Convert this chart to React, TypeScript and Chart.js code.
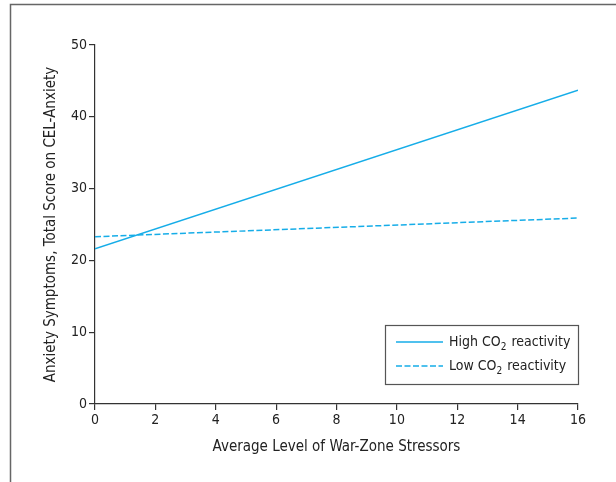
import React, { useEffect, useRef } from "react";
import { Chart, registerables } from "chart.js";

Chart.register(...registerables);

const xValues = [0, 16];
const highCO2 = [21.6, 43.7];
const lowCO2 = [23.3, 25.9];
const xTicks = [0, 2, 4, 6, 8, 10, 12, 14, 16];
const yTicks = [0, 10, 20, 30, 40, 50];
const seriesNames = ["High CO|2| reactivity", "Low CO|2| reactivity"];
const xTitle = "Average Level of War-Zone Stressors";
const yTitle = "Anxiety Symptoms, Total Score on CEL-Anxiety";

const FONT = "'Liberation Sans Narrow', 'DejaVu Sans Condensed', 'Roboto Condensed', Arial, sans-serif";
const BLUE = "#16ade8";
const AXIS = "#333333";

const framePlugin = {
  id: "frame",
  beforeDraw(chart: any) {
    const ctx = chart.ctx;
    ctx.save();
    ctx.strokeStyle = "#666666";
    ctx.lineWidth = 1.5;
    ctx.beginPath();
    ctx.moveTo(10.5, chart.height + 5);
    ctx.lineTo(10.5, 4.5);
    ctx.lineTo(chart.width + 5, 4.5);
    ctx.stroke();
    ctx.restore();
  },
};

const legendPlugin = {
  id: "customLegend",
  afterDraw(chart: any) {
    const ctx = chart.ctx;
    const area = chart.chartArea;
    const boxW = 193;
    const boxH = 59;
    const x0 = area.right - boxW;
    const y0 = area.bottom - 20 - boxH;
    ctx.save();
    ctx.fillStyle = "#ffffff";
    ctx.fillRect(x0, y0, boxW, boxH);
    ctx.strokeStyle = "#555555";
    ctx.lineWidth = 1.2;
    ctx.strokeRect(x0 + 0.5, y0 + 0.5, boxW, boxH);
    chart.data.datasets.forEach((ds: any, i: number) => {
      const ly = y0 + 17 + i * 24;
      ctx.strokeStyle = ds.borderColor;
      ctx.lineWidth = ds.borderWidth;
      ctx.setLineDash(ds.borderDash || []);
      ctx.beginPath();
      ctx.moveTo(x0 + 11, ly);
      ctx.lineTo(x0 + 58, ly);
      ctx.stroke();
      ctx.setLineDash([]);
      const parts = String(ds.label).split("|");
      let tx = x0 + 64;
      ctx.fillStyle = "#222222";
      ctx.textBaseline = "middle";
      ctx.textAlign = "left";
      parts.forEach((p: string, j: number) => {
        if (j % 2 === 1) {
          ctx.font = `10px ${FONT}`;
          ctx.fillText(p, tx, ly + 5);
          tx += ctx.measureText(p).width + 1;
        } else {
          ctx.font = `14px ${FONT}`;
          ctx.fillText(p, tx, ly);
          tx += ctx.measureText(p).width;
        }
      });
    });
    ctx.restore();
  },
};

export default function App() {
  const ref = useRef<HTMLCanvasElement | null>(null);
  useEffect(() => {
    if (!ref.current) return;
    const chart = new Chart(ref.current, {
      type: "line",
      data: {
        datasets: [
          {
            label: seriesNames[0],
            data: xValues.map((x, i) => ({ x, y: highCO2[i] })),
            borderColor: BLUE,
            borderWidth: 1.5,
            pointRadius: 0,
            fill: false,
          },
          {
            label: seriesNames[1],
            data: xValues.map((x, i) => ({ x, y: lowCO2[i] })),
            borderColor: BLUE,
            borderWidth: 1.5,
            borderDash: [6, 2.5],
            pointRadius: 0,
            fill: false,
          },
        ],
      },
      options: {
        animation: false,
        responsive: false,
        layout: { padding: { left: 42, top: 45, right: 38, bottom: 26 } },
        plugins: { legend: { display: false }, tooltip: { enabled: false } },
        scales: {
          x: {
            type: "linear",
            min: 0,
            max: 16,
            afterBuildTicks: (s: any) => {
              s.ticks = xTicks.map((v) => ({ value: v }));
            },
            afterFit: (s: any) => {
              s.height = 482 - 404 - 26;
            },
            border: { color: AXIS, width: 1.2 },
            grid: { display: true, drawOnChartArea: false, drawTicks: true, tickLength: 6, color: AXIS, lineWidth: 1.2 },
            ticks: { color: "#222", font: { family: FONT, size: 14 }, padding: 2, maxRotation: 0 },
            title: { display: true, text: xTitle, color: "#222", font: { family: FONT, size: 15 }, padding: 0 },
          },
          y: {
            type: "linear",
            min: 0,
            max: 50,
            afterBuildTicks: (s: any) => {
              s.ticks = yTicks.map((v) => ({ value: v }));
            },
            afterFit: (s: any) => {
              s.width = 95 - 42;
            },
            border: { color: AXIS, width: 1.2 },
            grid: { display: true, drawOnChartArea: false, drawTicks: true, tickLength: 6, color: AXIS, lineWidth: 1.2 },
            ticks: { color: "#222", font: { family: FONT, size: 14 }, padding: 2 },
            title: { display: true, text: yTitle, color: "#222", font: { family: FONT, size: 15 }, padding: 0 },
          },
        },
      },
      plugins: [framePlugin, legendPlugin],
    });
    return () => chart.destroy();
  }, []);
  return (
    <div style={{ position: "absolute", left: 0, top: 0, width: 616, height: 482, background: "#fff" }}>
      <canvas ref={ref} width={616} height={482} style={{ display: "block" }} />
    </div>
  );
}
